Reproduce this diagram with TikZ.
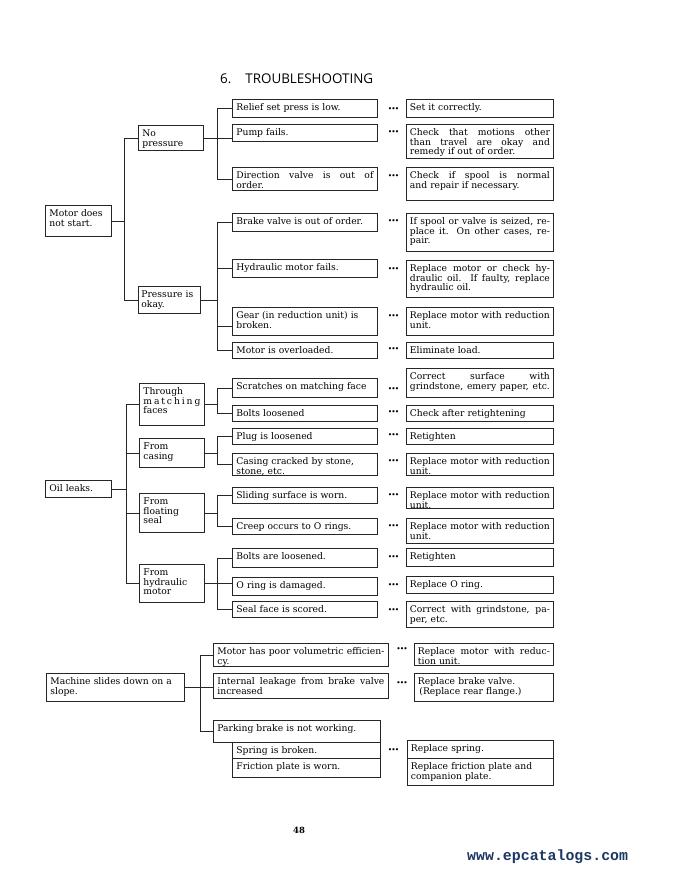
\documentclass[tikz,border=0pt]{standalone}
\usepackage{fontspec}
\setmainfont{DejaVu Serif}
\newfontfamily\titlefont{Open Sans}
\newfontfamily\wmfont{Liberation Mono}
\definecolor{navy}{HTML}{1C3762}
\tikzset{
  box/.style={draw=black!85, line width=0.8pt, anchor=north west, inner ysep=0pt,
    align=left, font=\fontsize{9.2}{9.4}\selectfont},
  link/.style={draw=black!85, line width=0.8pt},
  dotsn/.style={inner sep=0pt, font=\fontsize{7.5}{7.5}\selectfont},
}
\newcommand\jl[1]{{\spaceskip=0pt\xspaceskip=0pt\makebox[\linewidth][s]{#1}}}
\def\bxpad{4}
\newcommand\bx[6]{%
  \pgfmathsetmacro\bxw{#4-#2-2*\bxpad}%
  \pgfmathsetmacro\bxd{#5-#3-11.3}%
  \node[box, text width=\bxw pt, inner xsep=\bxpad pt, text height=11.3pt, text depth=\bxd pt] (#1) at (#2,#3) {#6};}
\newcommand\tdots{•\kern-0.9pt•\kern-0.9pt•}
\begin{document}
\begin{tikzpicture}[x=1pt,y=-1pt]
\useasboundingbox[fill=white] (0,0) rectangle (681,871);

% title
\node[anchor=base west, inner sep=0pt, font=\titlefont\fontsize{13.4}{15}\selectfont] (title) at (220,83) {6.\hspace{14pt}TROUBLESHOOTING};

% level A
\bx{motor}{45}{205}{111}{236}{Motor does\\not start.}
\bx{oil}{45}{480}{111}{497}{Oil leaks.}
\bx{slide}{46}{673}{184}{701}{Machine slides down on a\\slope.}

% level B
\bx{nop}{138}{125}{203}{150}{No\\pressure}
\def\bxpad{3}
\bx{pok}{138}{286}{200}{313}{Pressure is\\okay.}
\def\bxpad{4}
\bx{thr}{139}{383}{204}{425}{Through\\\makebox[\linewidth][s]{m\hfill a\hfill t\hfill c\hfill h\hfill i\hfill n\hfill g}\\faces}
\bx{cas}{139}{438}{204}{467}{From\\casing}
\bx{flo}{139}{493}{204}{532}{From\\floating\\seal}
\bx{hyd}{139}{564}{204}{602}{From\\hydraulic\\motor}

% causes
\bx{c1}{232}{99}{377}{117}{Relief set press is low.}
\bx{c2}{232}{124}{377}{141}{Pump fails.}
\bx{c3}{232}{167}{377}{190}{\jl{Direction valve is out of}\\order.}
\bx{c4}{232}{213}{377}{231}{Brake valve is out of order.}
\bx{c5}{232}{259}{377}{277}{Hydraulic motor fails.}
\bx{c6}{232}{307}{377}{335}{Gear (in reduction unit) is\\broken.}
\bx{c7}{232}{342}{377}{358}{Motor is overloaded.}
\bx{c8}{232}{378}{377}{397}{Scratches on matching face}
\bx{c9}{232}{405}{377}{421}{Bolts loosened}
\bx{c10}{232}{428}{377}{444}{Plug is loosened}
\bx{c11}{232}{453}{377}{475}{Casing cracked by stone,\\stone, etc.}
\bx{c12}{232}{487}{377}{503}{Sliding surface is worn.}
\bx{c13}{232}{518}{377}{534}{Creep occurs to O rings.}
\bx{c14}{232}{548}{377}{567}{Bolts are loosened.}
\bx{c15}{232}{577}{377}{595}{O ring is damaged.}
\bx{c16}{232}{601}{377}{617}{Seal face is scored.}

% remedies
\def\bxpad{3.5}
\bx{d1}{406}{99}{553}{117}{Set it correctly.}
\bx{d2}{406}{124}{553}{158}{\jl{Check that motions other}\\\jl{than travel are okay and}\\remedy if out of order.}
\bx{d3}{406}{167}{553}{200}{\jl{Check if spool is normal}\\and repair if necessary.}
\bx{d4}{406}{213}{553}{251}{\jl{If spool or valve is seized, re-}\\\jl{place it. On other cases, re-}\\pair.}
\bx{d5}{406}{260}{553}{297}{\jl{Replace motor or check hy-}\\\jl{draulic oil. If faulty, replace}\\hydraulic oil.}
\bx{d6}{406}{307}{553}{335}{\jl{Replace motor with reduction}\\unit.}
\bx{d7}{406}{342}{553}{358}{Eliminate load.}
\bx{d8}{406}{368}{553}{397}{\jl{Correct surface with}\\\jl{grindstone, emery paper, etc.}}
\bx{d9}{406}{405}{553}{421}{Check after retightening}
\bx{d10}{406}{428}{553}{444}{Retighten}
\bx{d11}{406}{453}{553}{475}{\jl{Replace motor with reduction}\\unit.}
\bx{d12}{406}{487}{553}{508}{\jl{Replace motor with reduction}\\unit.}
\bx{d13}{406}{518}{553}{543}{\jl{Replace motor with reduction}\\unit.}
\bx{d14}{406}{548}{553}{566}{Retighten}
\bx{d15}{406}{576}{553}{593}{Replace O ring.}
\bx{d16}{406}{601}{553}{627}{\jl{Correct with grindstone, pa-}\\per, etc.}

% machine slides section
\def\bxpad{4}
\bx{e1}{213}{643}{388}{666}{\jl{Motor has poor volumetric efficien-}\\cy.}
\bx{e2}{213}{673}{388}{698}{\jl{Internal leakage from brake valve}\\increased}
\bx{e3}{213}{720}{380}{742}{Parking brake is not working.}
\bx{e4}{232}{742}{380}{758}{Spring is broken.}
\bx{e5}{232}{758}{380}{777}{Friction plate is worn.}
\def\bxpad{3.5}
\bx{f1}{414}{643}{553}{665}{\jl{Replace motor with reduc-}\\tion unit.}
\bx{f2}{414}{673}{553}{701}{Replace brake valve.\\\,(Replace rear flange.)}
\bx{f3}{407}{740}{553}{758}{Replace spring.}
\bx{f4}{407}{758}{553}{785}{Replace friction plate and\\companion plate.}

% dots
\foreach \n/\yy in {k1/110,k2/133,k3/177,k4/222,k5/270,k6/317,k7/350,k8/390,k9/413,k10/436,k11/462,k12/496,k13/527,k14/558,k15/586,k16/611,k19/751}
  \node[dotsn] (\n) at (393.5,\yy) {\tdots};
\node[dotsn] (k17) at (402,650) {\tdots};
\node[dotsn] (k18) at (402,684) {\tdots};

% junction coordinates
\coordinate (jA) at (124,0);
\coordinate (jB) at (217,0);
\coordinate (jC) at (126,0);
\coordinate (jD) at (200,0);

% connectors: motor does not start
\draw[link] (motor.east) -- (motor.east -| jA);
\draw[link] (nop.west) -| (jA |- pok.west) -- (pok.west);
\draw[link] (nop.east) -- (c2.west |- nop.east);
\draw[link] (c1.west) -| (jB |- c3.west) -- (c3.west);
\draw[link] (pok.east) -- (pok.east -| jB);
\draw[link] (c4.west) -| (jB |- c7.west) -- (c7.west);
\draw[link] (c5.west) -- (c5.west -| jB);
\draw[link] ([yshift=-5pt]c6.west) -- ([yshift=-5pt]c6.west -| jB);

% connectors: oil leaks
\draw[link] (oil.east) -- (oil.east -| jC);
\draw[link] (thr.west) -| (jC |- hyd.west) -- (hyd.west);
\draw[link] (cas.west) -- (cas.west -| jC);
\draw[link] (flo.west) -- (flo.west -| jC);
\draw[link] (thr.east) -- (thr.east -| jB);
\draw[link] (c8.west) -| (jB |- c9.west) -- (c9.west);
\draw[link] (cas.east) -- (cas.east -| jB);
\draw[link] (c10.west) -| (jB |- c11.west) -- (c11.west);
\draw[link] (flo.east) -- (flo.east -| jB);
\draw[link] (c12.west) -| (jB |- c13.west) -- (c13.west);
\draw[link] (hyd.east) -- (c15.west |- hyd.east);
\draw[link] (c14.west) -| (jB |- c16.west) -- (c16.west);

% connectors: machine slides
\draw[link] (slide.east) -- (e2.west |- slide.east);
\draw[link] (e1.west) -| (jD |- e3.west) -- (e3.west);

% page number and watermark
\node[anchor=base, inner sep=0pt, font=\fontsize{8.5}{9}\selectfont\bfseries] (pg) at (299,833) {48};
\node[anchor=base west, inner sep=0pt, text=navy, font=\wmfont\bfseries\fontsize{14.9}{16}\selectfont] (wm) at (467,860) {www.epcatalogs.com};
\end{tikzpicture}
\end{document}
